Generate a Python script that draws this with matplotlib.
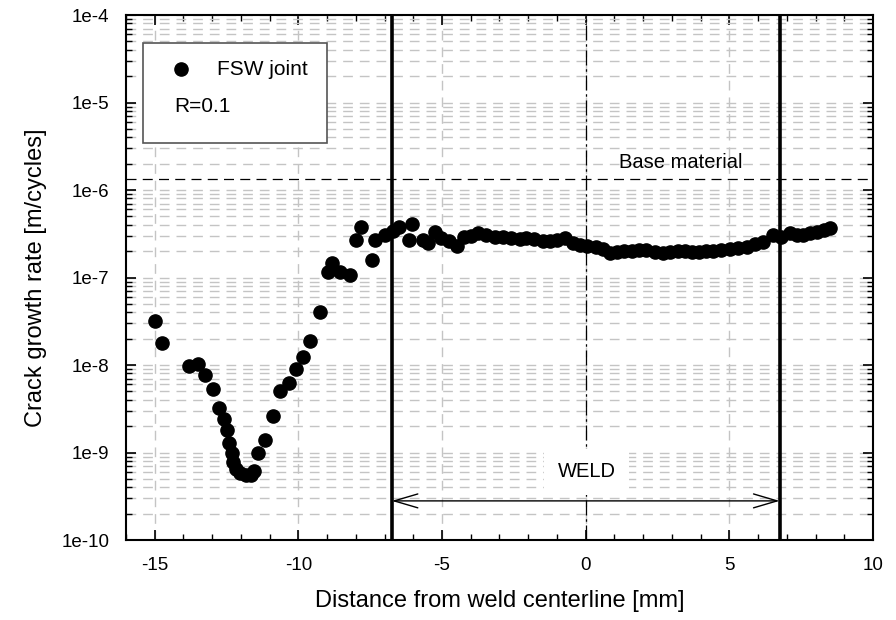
import numpy as np
import matplotlib
matplotlib.use("Agg")
import matplotlib.pyplot as plt
from matplotlib.ticker import LogLocator, FixedLocator, MultipleLocator, FuncFormatter, NullFormatter
from matplotlib.patches import Rectangle

plt.rcParams['font.family'] = ['Liberation Sans', 'DejaVu Sans']
plt.rcParams['axes.unicode_minus'] = False

# crack growth rate across the FSW joint
dist = [-15.0, -14.76, -13.8, -13.5, -13.24, -12.96, -12.75, -12.6, -12.5, -12.4,
        -12.32, -12.26, -12.17, -12.03, -11.82, -11.65, -11.53, -11.39, -11.15, -10.87,
        -10.64, -10.34, -10.08, -9.85, -9.59, -9.23, -8.98, -8.83, -8.55, -8.2,
        -8.01, -7.82, -7.45, -7.32, -7.0, -6.71,
        -6.48, -6.16, -6.04, -5.67, -5.5, -5.26, -5.03, -4.74, -4.48, -4.22,
        -4.0, -3.75, -3.46, -3.17, -2.88, -2.6, -2.3, -2.07, -1.8, -1.5,
        -1.25, -1.0, -0.73, -0.45, -0.21, 0.05, 0.37, 0.6, 0.84, 1.1,
        1.35, 1.6, 1.85, 2.11, 2.4, 2.69, 2.95, 3.2, 3.45, 3.7,
        3.95, 4.2, 4.44, 4.7, 5.02, 5.3, 5.6, 5.9, 6.18, 6.53,
        6.8, 7.11, 7.35, 7.57, 7.8, 8.04, 8.3, 8.5]
rate = [3.2e-8, 1.8e-8, 9.8e-9, 1.04e-8, 7.6e-9, 5.3e-9, 3.2e-9, 2.4e-9, 1.8e-9, 1.3e-9,
        9.8e-10, 7.7e-10, 6.5e-10, 5.8e-10, 5.5e-10, 5.6e-10, 6.2e-10, 9.8e-10, 1.4e-9, 2.6e-9,
        5.0e-9, 6.2e-9, 9.1e-9, 1.25e-8, 1.9e-8, 4.0e-8, 1.15e-7, 1.48e-7, 1.15e-7, 1.07e-7,
        2.7e-7, 3.8e-7, 1.6e-7, 2.7e-7, 3.1e-7, 3.4e-7,
        3.8e-7, 2.7e-7, 4.1e-7, 2.7e-7, 2.5e-7, 3.3e-7, 2.8e-7, 2.6e-7, 2.3e-7, 2.9e-7,
        3.0e-7, 3.2e-7, 3.05e-7, 2.9e-7, 2.9e-7, 2.8e-7, 2.75e-7, 2.8e-7, 2.75e-7, 2.6e-7,
        2.6e-7, 2.7e-7, 2.8e-7, 2.5e-7, 2.35e-7, 2.3e-7, 2.25e-7, 2.1e-7, 1.92e-7, 1.95e-7,
        2.0e-7, 2.02e-7, 2.05e-7, 2.06e-7, 1.95e-7, 1.89e-7, 1.95e-7, 2.0e-7, 2.0e-7, 1.97e-7,
        1.98e-7, 2.0e-7, 2.02e-7, 2.05e-7, 2.1e-7, 2.15e-7, 2.25e-7, 2.4e-7, 2.56e-7, 3.06e-7,
        2.9e-7, 3.2e-7, 3.1e-7, 3.06e-7, 3.2e-7, 3.33e-7, 3.5e-7, 3.65e-7]

base_rate = 1.32e-6
weld_edges = [-6.75, 6.75]
x_ticks = [-15, -10, -5, 0, 5, 10]
y_decades = [1e-10, 1e-9, 1e-8, 1e-7, 1e-6, 1e-5, 1e-4]

fig = plt.figure(figsize=(8.96, 6.2), dpi=100)
ax = fig.add_axes([0.1406, 0.129, 0.8337, 0.8468])

ax.set_yscale('log')
ax.set_xlim(-16, 10)
ax.set_ylim(1e-10, 1e-4)

# grid
grid_kw = dict(color='#c4c4c4', linestyle=(0, (7, 5)), linewidth=1.0)
ax.yaxis.set_major_locator(FixedLocator(y_decades))
ax.yaxis.set_minor_locator(LogLocator(base=10, subs=np.arange(2, 10)))
ax.yaxis.set_major_formatter(FuncFormatter(lambda v, p: '1e%d' % round(np.log10(v))))
ax.yaxis.set_minor_formatter(NullFormatter())
ax.xaxis.set_major_locator(FixedLocator(x_ticks))
ax.xaxis.set_minor_locator(MultipleLocator(1))
ax.grid(True, which='major', axis='both', **grid_kw)
ax.grid(True, which='minor', axis='y', **grid_kw)
ax.set_axisbelow(True)

ax.tick_params(which='both', direction='in', top=True, right=True, labelsize=13.5, pad=12)
ax.tick_params(which='major', length=7, width=1.2)
ax.tick_params(which='minor', length=4, width=1.0)
for sp in ax.spines.values():
    sp.set_linewidth(1.5)

# base material and weld zone lines
ax.axhline(base_rate, color='black', linestyle=(0, (8, 5)), linewidth=0.9)
ax.axvline(0, color='black', linestyle=(0, (12, 3, 2, 3)), linewidth=0.9)
for xe in weld_edges:
    ax.axvline(xe, color='black', linewidth=2.6)

ax.text(3.3, 2.04e-6, 'Base material', fontsize=14.5, ha='center', va='center')
ax.annotate('', xy=(weld_edges[0], 2.8e-10), xytext=(weld_edges[1], 2.8e-10),
            arrowprops=dict(arrowstyle='<->,head_length=1.7,head_width=0.5',
                            color='black', linewidth=1.0, shrinkA=0, shrinkB=0,
                            mutation_scale=10))
ax.text(0.03, 6.0e-10, 'WELD', fontsize=14.5, ha='center', va='center',
        bbox=dict(facecolor='white', edgecolor='none', pad=10))

ax.plot(dist, rate, 'o', color='black', markersize=9.5, zorder=5)

# legend box
ax.add_patch(Rectangle((0.0224, 0.757), 0.2471, 0.19, transform=ax.transAxes,
                       facecolor='white', edgecolor='#555555', linewidth=1.2, zorder=6))
ax.plot([0.0736], [0.897], 'o', color='black', markersize=9.5, transform=ax.transAxes,
        zorder=7, clip_on=False)
ax.text(0.1218, 0.897, 'FSW joint', transform=ax.transAxes, fontsize=15,
        va='center', ha='left', zorder=7)
ax.text(0.0643, 0.825, 'R=0.1', transform=ax.transAxes, fontsize=15,
        va='center', ha='left', zorder=7)

ax.set_xlabel('Distance from weld centerline [mm]', fontsize=17, labelpad=12)
ax.set_ylabel('Crack growth rate [m/cycles]', fontsize=17, labelpad=10)

fig.savefig('out.png', dpi=100)
